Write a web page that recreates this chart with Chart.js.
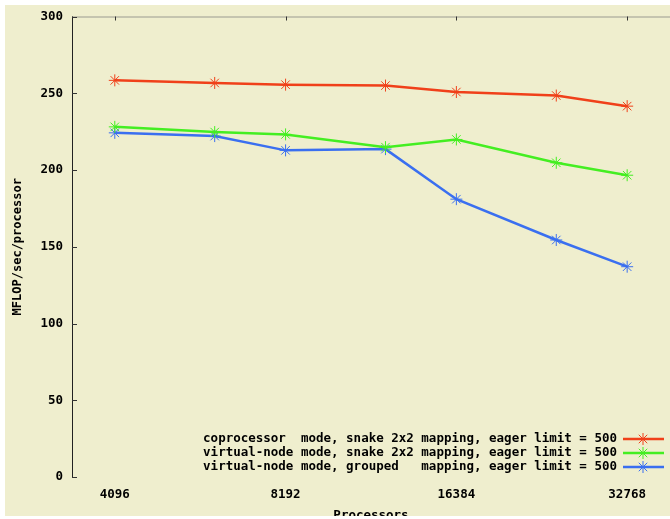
<!DOCTYPE html>
<html>
<head>
<meta charset="utf-8">
<script src="https://cdn.jsdelivr.net/npm/chart.js@4/dist/chart.umd.min.js"></script>
<style>
  html, body { margin: 0; padding: 0; background: #fff; }
  canvas { display: block; }
</style>
</head>
<body>
<canvas id="myChart" width="670" height="519"></canvas>
<script>
const ctx = document.querySelector("#myChart");

// processor counts on the x axis (log2 spaced)
const processors = [4096, 6144, 8192, 12288, 16384, 24576, 32768];
const xTicks = [4096, 8192, 16384, 32768];

const coprocSnake = [258.4, 256.7, 255.6, 255.0, 250.8, 248.5, 241.6];
const vnodeSnake = [228.1, 224.7, 223.2, 214.9, 219.9, 204.7, 196.6];
const vnodeGrouped = [224.2, 222.1, 212.8, 213.6, 181.0, 154.4, 137.0];

const labels = [
  "coprocessor  mode, snake 2x2 mapping, eager limit = 500",
  "virtual-node mode, snake 2x2 mapping, eager limit = 500",
  "virtual-node mode, grouped   mapping, eager limit = 500",
];
const colors = ["#f0401a", "#44ee22", "#3a6ff0"];

const FONT = "DejaVu Sans Mono";
const CREAM = "#efeece";

const toPoints = (ys) => processors.map((x, i) => ({ x: x, y: ys[i] }));

// cream panel with a thin white margin, plus axis ticks and top frame line
const framePlugin = {
  id: "frame",
  beforeDraw(chart) {
    const c = chart.ctx;
    c.save();
    c.fillStyle = "#fff";
    c.fillRect(0, 0, chart.width, chart.height);
    c.fillStyle = CREAM;
    c.fillRect(5, 5, chart.width - 5, 511);
    c.restore();
  },
  afterDraw(chart) {
    const c = chart.ctx;
    const area = chart.chartArea;
    const xs = chart.scales.x;
    const ys = chart.scales.y;
    c.save();
    // top border
    c.strokeStyle = "#9a9a90";
    c.lineWidth = 1;
    c.beginPath();
    c.moveTo(area.left, area.top + 0.5);
    c.lineTo(area.right, area.top + 0.5);
    c.stroke();
    // inward ticks
    c.strokeStyle = "#333";
    c.beginPath();
    ys.ticks.forEach((t) => {
      const py = Math.round(ys.getPixelForValue(t.value)) + 0.5;
      c.moveTo(area.left, py);
      c.lineTo(area.left + 5, py);
    });
    xs.ticks.forEach((t) => {
      const px = Math.round(xs.getPixelForValue(t.value)) + 0.5;
      c.moveTo(px, area.top);
      c.lineTo(px, area.top + 4);
    });
    c.stroke();
    // white strip at the very bottom
    c.fillStyle = "#fff";
    c.fillRect(0, 516, chart.width, chart.height - 516);
    c.restore();
  },
};

// key drawn inside the plot, bottom right
const keyPlugin = {
  id: "key",
  afterDatasetsDraw(chart) {
    const c = chart.ctx;
    c.save();
    c.font = "bold 12.5px '" + FONT + "'";
    c.textAlign = "right";
    c.textBaseline = "middle";
    chart.data.datasets.forEach((ds, i) => {
      const y = 439 + i * 14;
      c.fillStyle = "#000";
      c.fillText(ds.label, 617, y);
      c.strokeStyle = ds.borderColor;
      c.lineWidth = 2.5;
      c.beginPath();
      c.moveTo(623, y);
      c.lineTo(664, y);
      c.stroke();
      c.lineWidth = 1;
      c.strokeStyle = ds.pointBorderColor;
      Chart.helpers.drawPoint(c, { pointStyle: "star", radius: 6, rotation: 0, borderWidth: 1 }, 643, y);
    });
    c.restore();
  },
};

const makeSet = (label, ys, color) => ({
  label: label,
  data: toPoints(ys),
  borderColor: color,
  backgroundColor: color,
  borderWidth: 2.5,
  pointStyle: "star",
  pointRadius: 6,
  pointBorderWidth: 1,
  pointBorderColor: color,
  tension: 0,
});

const config = {
  type: "line",
  data: {
    datasets: [
      makeSet(labels[0], coprocSnake, colors[0]),
      makeSet(labels[1], vnodeSnake, colors[1]),
      makeSet(labels[2], vnodeGrouped, colors[2]),
    ],
  },
  options: {
    responsive: false,
    animation: false,
    devicePixelRatio: 1,
    layout: { autoPadding: false, padding: { top: 15, right: 0, bottom: 0, left: 0 } },
    plugins: { legend: { display: false }, tooltip: { enabled: false } },
    scales: {
      x: {
        type: "logarithmic",
        min: 3443,
        max: 38990,
        grid: { display: false, drawTicks: false },
        border: { display: false },
        afterBuildTicks: (scale) => {
          scale.ticks = xTicks.map((v) => ({ value: v }));
        },
        afterFit: (scale) => {
          scale.height = 42;
          scale.paddingLeft = 0;
          scale.paddingRight = 0;
        },
        ticks: {
          padding: 10,
          color: "#000",
          maxRotation: 0,
          autoSkip: false,
          font: { family: FONT, size: 12.5, weight: "bold" },
          callback: (v) => String(v),
        },
        title: {
          display: true,
          text: "Processors",
          color: "#000",
          padding: { top: 0, bottom: -4.5 },
          font: { family: FONT, size: 12.5, weight: "bold" },
        },
      },
      y: {
        min: 0,
        max: 300,
        grid: { display: false, drawTicks: false },
        border: { display: true, color: "#222", width: 1, dash: [3, 1] },
        afterFit: (scale) => { scale.width = 72; },
        ticks: {
          stepSize: 50,
          padding: 9,
          color: "#000",
          font: { family: FONT, size: 12.5, weight: "bold" },
        },
        title: {
          display: true,
          text: "MFLOP/sec/processor",
          color: "#000",
          padding: { top: 11, bottom: 0 },
          font: { family: FONT, size: 12, weight: "bold" },
        },
      },
    },
  },
  plugins: [framePlugin, keyPlugin],
};

const chart = new Chart(ctx, config);
</script>
</body>
</html>
